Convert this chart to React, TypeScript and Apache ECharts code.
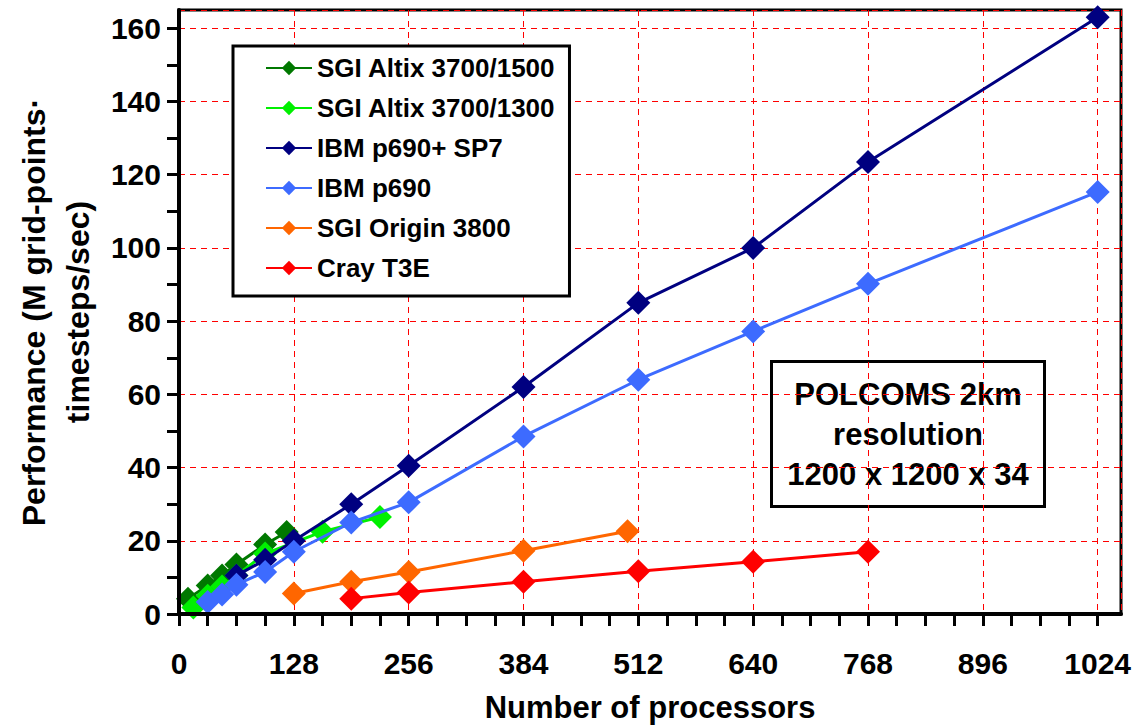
import React, { useEffect, useRef } from "react";
import * as echarts from "echarts";

const seriesNames = [
  "SGI Altix 3700/1500",
  "SGI Altix 3700/1300",
  "IBM p690+ SP7",
  "IBM p690",
  "SGI Origin 3800",
  "Cray T3E",
];

const procsAltix1500 = [10, 32, 48, 64, 96, 120];
const perfAltix1500 = [4.2, 7.8, 10.5, 13.5, 19, 22.4];

const procsAltix1300 = [16, 32, 48, 64, 96, 160, 224];
const perfAltix1300 = [1.8, 5, 7.5, 10.5, 16.5, 22.5, 26.5];

const procsP690Plus = [64, 96, 128, 192, 256, 384, 512, 640, 768, 1024];
const perfP690Plus = [10.5, 14.8, 20, 30, 40.5, 62, 85, 100, 123.5, 163];

const procsP690 = [32, 48, 64, 96, 128, 192, 256, 384, 512, 640, 768, 1024];
const perfP690 = [3.3, 5.3, 8, 11.5, 17, 25, 30.5, 48.5, 64, 77.2, 90.2, 115.3];

const procsOrigin = [128, 192, 256, 384, 500];
const perfOrigin = [5.6, 8.8, 11.5, 17.3, 22.6];

const procsCray = [192, 256, 384, 512, 640, 768];
const perfCray = [4.2, 5.9, 8.8, 11.7, 14.3, 17];

const xTickLabels = [0, 128, 256, 384, 512, 640, 768, 896, 1024];
const xMinorTicks = [0, 32, 64, 96, 128, 160, 192, 224, 256, 288, 320, 352, 384, 416, 448, 480, 512, 544, 576, 608, 640, 672, 704, 736, 768, 800, 832, 864, 896, 928, 960, 992, 1024];
const yTickLabels = [0, 20, 40, 60, 80, 100, 120, 140, 160];
const yMinorTicks = [0, 10, 20, 30, 40, 50, 60, 70, 80, 90, 100, 110, 120, 130, 140, 150, 160];

const colors = ["#007800", "#00F000", "#000080", "#3D6BFF", "#FF6600", "#FF0000"];

const FONT = "'Liberation Sans', Arial, Helvetica, sans-serif";
const X_MAX = 1050;
const Y_MAX = 165;

function pairs(xs: number[], ys: number[]) {
  return xs.map((x, i) => [x, ys[i]]);
}

const gridLineStyle = { color: "#FF0000", width: 1, type: [6, 5] };

export default function App() {
  const ref = useRef<HTMLDivElement>(null);
  useEffect(() => {
    if (!ref.current) return;
    const chart = echarts.init(ref.current, null, { renderer: "svg" });
    const allData = [
      pairs(procsAltix1500, perfAltix1500),
      pairs(procsAltix1300, perfAltix1300),
      pairs(procsP690Plus, perfP690Plus),
      pairs(procsP690, perfP690),
      pairs(procsOrigin, perfOrigin),
      pairs(procsCray, perfCray),
    ];
    chart.setOption({
      animation: false,
      backgroundColor: "#ffffff",
      grid: {
        left: 179,
        right: 17,
        top: 10,
        bottom: 112,
        containLabel: false,
        outerBoundsMode: "none",
        show: true,
        borderColor: "#000",
        borderWidth: 3,
        backgroundColor: "#fff",
      },
      xAxis: [
        {
          type: "value",
          min: 0,
          max: X_MAX,
          interval: 128,
          name: "Number of processors",
          nameLocation: "middle",
          nameGap: 78,
          nameTextStyle: { fontFamily: FONT, fontWeight: "bold", fontSize: 31, color: "#000" },
          axisLine: { show: true, onZero: false, lineStyle: { color: "#000", width: 4 } },
          axisTick: {
            show: true,
            inside: false,
            length: 12,
            customValues: xMinorTicks,
            lineStyle: { color: "#000", width: 3 },
          },
          axisLabel: {
            customValues: xTickLabels,
            margin: 34,
            formatter: (v: number) => String(v),
            fontFamily: FONT,
            fontWeight: "bold",
            fontSize: 30,
            color: "#000",
          },
          splitLine: { show: false },
          z: 10,
        },
        {
          type: "value",
          min: 0,
          max: X_MAX,
          interval: 128,
          position: "bottom",
          axisLine: { show: false },
          axisTick: { show: false },
          axisLabel: { show: false },
          splitLine: { show: true, lineStyle: gridLineStyle },
        },
      ],
      yAxis: [
        {
          type: "value",
          min: 0,
          max: Y_MAX,
          interval: 20,
          name: "Performance (M grid-points·\ntimesteps/sec)",
          nameLocation: "middle",
          nameGap: 76,
          nameRotate: 90,
          nameTextStyle: {
            fontFamily: FONT,
            fontWeight: "bold",
            fontSize: 32,
            lineHeight: 44,
            color: "#000",
            align: "center",
          },
          axisLine: { show: true, onZero: false, lineStyle: { color: "#000", width: 4 } },
          axisTick: {
            show: true,
            inside: false,
            length: 12,
            customValues: yMinorTicks,
            lineStyle: { color: "#000", width: 3 },
          },
          axisLabel: {
            customValues: yTickLabels,
            margin: 18,
            fontFamily: FONT,
            fontWeight: "bold",
            fontSize: 30,
            color: "#000",
          },
          splitLine: { show: false },
          z: 10,
        },
        {
          type: "value",
          min: 0,
          max: Y_MAX,
          interval: 20,
          position: "left",
          axisLine: { show: false },
          axisTick: { show: false },
          axisLabel: { show: false },
          splitLine: { show: true, lineStyle: gridLineStyle },
        },
      ],
      legend: {
        data: seriesNames,
        orient: "vertical",
        left: 233,
        top: 46,
        backgroundColor: "#fff",
        borderColor: "#000",
        borderWidth: 3,
        borderRadius: 0,
        padding: [8, 14, 14, 32],
        itemGap: 12,
        itemWidth: 46,
        itemHeight: 18,
        textStyle: {
          fontFamily: FONT,
          fontWeight: "bold",
          fontSize: 26,
          lineHeight: 28,
          color: "#000",
        },
      },
      graphic: [
        {
          type: "group",
          left: 770,
          top: 360,
          z: 100,
          children: [
            {
              type: "rect",
              shape: { x: 0, y: 0, width: 273, height: 145 },
              style: { fill: "#fff", stroke: "#000", lineWidth: 3 },
            },
            {
              type: "text",
              x: 136.5,
              y: 72.5,
              style: {
                text: "POLCOMS 2km\nresolution\n1200 x 1200 x 34",
                align: "center",
                verticalAlign: "middle",
                fontFamily: FONT,
                fontWeight: "bold",
                fontSize: 31,
                lineHeight: 40,
                fill: "#000",
              },
            },
          ],
        },
      ],
      series: seriesNames.map((name, i) => ({
        name,
        type: "line",
        xAxisIndex: 0,
        yAxisIndex: 0,
        data: allData[i],
        color: colors[i],
        symbol: "diamond",
        symbolSize: 24,
        showAllSymbol: true,
        lineStyle: { width: 3, color: colors[i] },
        itemStyle: { color: colors[i] },
        z: 3 + i,
      })),
    });
    return () => chart.dispose();
  }, []);
  return (
    <div
      ref={ref}
      style={{ position: "absolute", left: 0, top: 0, width: 1138, height: 726 }}
    />
  );
}
